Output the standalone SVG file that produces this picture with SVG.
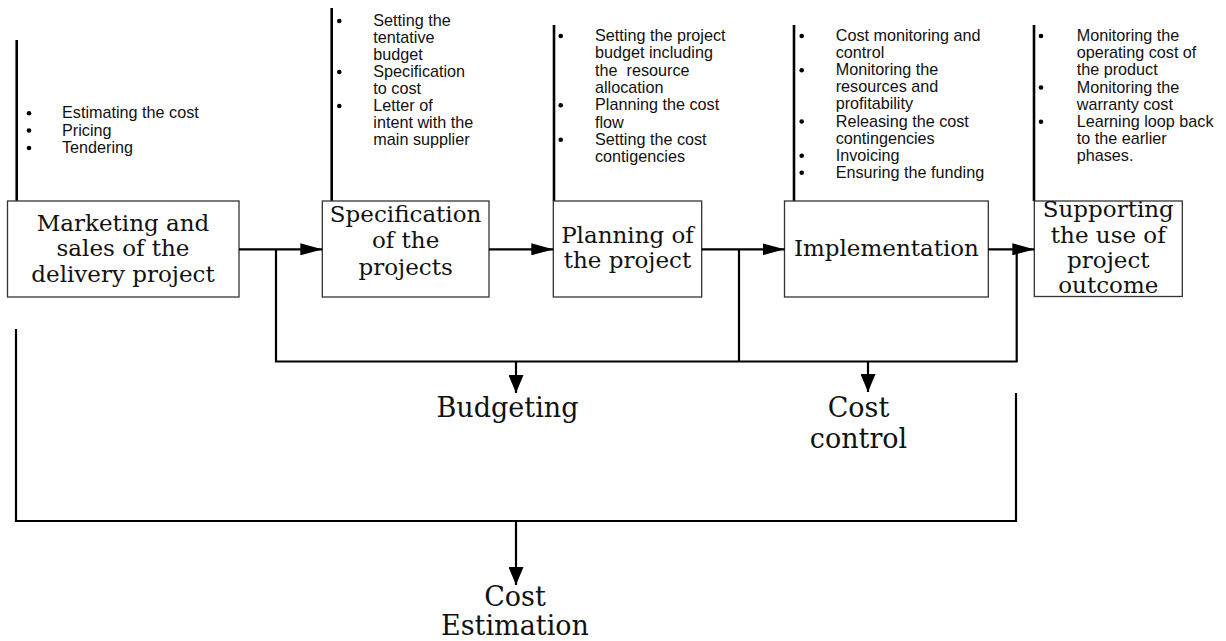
<svg xmlns="http://www.w3.org/2000/svg" width="1226" height="641" viewBox="0 0 1226 641">
  <style>
    .box { fill: #ffffff; stroke: #333333; stroke-width: 1.3; }
    .title { font-family: "DejaVu Serif", "Liberation Serif", serif; font-size: 23px; fill: #111111; text-anchor: middle; }
    .label { font-family: "DejaVu Serif", "Liberation Serif", serif; font-size: 27px; fill: #111111; text-anchor: middle; }
    .note { font-family: "Liberation Sans", Arial, sans-serif; font-size: 16.2px; fill: #111111; }
    .rule { stroke: #000000; stroke-width: 2.6; fill: none; }
    .wire { stroke: #000000; stroke-width: 2.2; fill: none; }
    .dot { fill: #000000; }
  </style>
  <defs>
    <marker id="head" viewBox="0 0 22 12" refX="22" refY="6" markerWidth="22" markerHeight="12" markerUnits="userSpaceOnUse" orient="auto">
      <path d="M0,0 L22,6 L0,12 Z" fill="#000000"/>
    </marker>
    <marker id="headDown" viewBox="0 0 18 15" refX="18" refY="7.5" markerWidth="18" markerHeight="15" markerUnits="userSpaceOnUse" orient="auto">
      <path d="M0,0 L18,7.5 L0,15 Z" fill="#000000"/>
    </marker>
  </defs>

  <!-- Phase 1 -->
  <g id="marketing">
    <line class="rule" x1="16.7" y1="40" x2="16.7" y2="201"/>
    <circle class="dot" cx="29" cy="113.3" r="2.3"/>
    <circle class="dot" cx="29" cy="130.5" r="2.3"/>
    <circle class="dot" cx="29" cy="148" r="2.3"/>
    <text class="note" x="62" y="118.3">Estimating the cost</text>
    <text class="note" x="62" y="135.5">Pricing</text>
    <text class="note" x="62" y="153">Tendering</text>
    <rect class="box" x="7.5" y="201" width="231.5" height="96"/>
    <text class="title" x="123" y="230.7">Marketing and</text>
    <text class="title" x="123" y="256.3">sales of the</text>
    <text class="title" x="123" y="281.7">delivery project</text>
  </g>

  <!-- Phase 2 -->
  <g id="specification">
    <line class="rule" x1="331.7" y1="8" x2="331.7" y2="201"/>
    <circle class="dot" cx="339.3" cy="21" r="2.3"/>
    <circle class="dot" cx="339.3" cy="72" r="2.3"/>
    <circle class="dot" cx="339.3" cy="106" r="2.3"/>
    <text class="note" x="373.3" y="26">Setting the</text>
    <text class="note" x="373.3" y="43">tentative</text>
    <text class="note" x="373.3" y="60">budget</text>
    <text class="note" x="373.3" y="77">Specification</text>
    <text class="note" x="373.3" y="94">to cost</text>
    <text class="note" x="373.3" y="111">Letter of</text>
    <text class="note" x="373.3" y="128">intent with the</text>
    <text class="note" x="373.3" y="145">main supplier</text>
    <rect class="box" x="322.3" y="201" width="166.7" height="96"/>
    <text class="title" x="405.6" y="221.7">Specification</text>
    <text class="title" x="405.6" y="248.3">of the</text>
    <text class="title" x="405.6" y="275">projects</text>
  </g>

  <!-- Phase 3 -->
  <g id="planning">
    <line class="rule" x1="554" y1="25" x2="554" y2="201"/>
    <circle class="dot" cx="560.7" cy="36" r="2.3"/>
    <circle class="dot" cx="560.7" cy="105.3" r="2.3"/>
    <circle class="dot" cx="560.7" cy="139.8" r="2.3"/>
    <text class="note" x="595" y="41">Setting the project</text>
    <text class="note" x="595" y="58.3">budget including</text>
    <text class="note" x="595" y="75.6" xml:space="preserve">the  resource</text>
    <text class="note" x="595" y="92.9">allocation</text>
    <text class="note" x="595" y="110.2">Planning the cost</text>
    <text class="note" x="595" y="127.5">flow</text>
    <text class="note" x="595" y="144.8">Setting the cost</text>
    <text class="note" x="595" y="162.1">contigencies</text>
    <rect class="box" x="553.3" y="201" width="148.4" height="96"/>
    <text class="title" x="627.5" y="242.7">Planning of</text>
    <text class="title" x="627.5" y="268.3">the project</text>
  </g>

  <!-- Phase 4 -->
  <g id="implementation">
    <line class="rule" x1="794" y1="25" x2="794" y2="201"/>
    <circle class="dot" cx="801.7" cy="36" r="2.3"/>
    <circle class="dot" cx="801.7" cy="70.2" r="2.3"/>
    <circle class="dot" cx="801.7" cy="121.5" r="2.3"/>
    <circle class="dot" cx="801.7" cy="155.7" r="2.3"/>
    <circle class="dot" cx="801.7" cy="172.8" r="2.3"/>
    <text class="note" x="835.7" y="41">Cost monitoring and</text>
    <text class="note" x="835.7" y="58.1">control</text>
    <text class="note" x="835.7" y="75.2">Monitoring the</text>
    <text class="note" x="835.7" y="92.3">resources and</text>
    <text class="note" x="835.7" y="109.4">profitability</text>
    <text class="note" x="835.7" y="126.5">Releasing the cost</text>
    <text class="note" x="835.7" y="143.6">contingencies</text>
    <text class="note" x="835.7" y="160.7">Invoicing</text>
    <text class="note" x="835.7" y="177.8">Ensuring the funding</text>
    <rect class="box" x="784.5" y="201" width="203.8" height="96"/>
    <text class="title" x="886.4" y="256">Implementation</text>
  </g>

  <!-- Phase 5 -->
  <g id="supporting">
    <line class="rule" x1="1034" y1="25" x2="1034" y2="201"/>
    <circle class="dot" cx="1041" cy="36" r="2.3"/>
    <circle class="dot" cx="1041" cy="87.5" r="2.3"/>
    <circle class="dot" cx="1041" cy="121.7" r="2.3"/>
    <text class="note" x="1076.7" y="41">Monitoring the</text>
    <text class="note" x="1076.7" y="58.2">operating cost of</text>
    <text class="note" x="1076.7" y="75.4">the product</text>
    <text class="note" x="1076.7" y="92.6">Monitoring the</text>
    <text class="note" x="1076.7" y="109.8">warranty cost</text>
    <text class="note" x="1076.7" y="127">Learning loop back</text>
    <text class="note" x="1076.7" y="144.2">to the earlier</text>
    <text class="note" x="1076.7" y="161.4">phases.</text>
    <rect class="box" x="1034.3" y="201" width="148" height="95.5"/>
    <text class="title" x="1108.3" y="217">Supporting</text>
    <text class="title" x="1108.3" y="242.5">the use of</text>
    <text class="title" x="1108.3" y="268">project</text>
    <text class="title" x="1108.3" y="292.5">outcome</text>
  </g>

  <!-- Flow between phases and feeds to the outputs -->
  <g id="connectors">
    <line class="wire" x1="239" y1="249.3" x2="322.3" y2="249.3" marker-end="url(#head)"/>
    <line class="wire" x1="489" y1="249.3" x2="553.3" y2="249.3" marker-end="url(#head)"/>
    <line class="wire" x1="701.7" y1="249.3" x2="784.5" y2="249.3" marker-end="url(#head)"/>
    <line class="wire" x1="988.3" y1="249.3" x2="1034.3" y2="249.3" marker-end="url(#head)"/>

    <polyline class="wire" points="276,249.3 276,361.5 1016.7,361.5 1016.7,249.3"/>
    <line class="wire" x1="739" y1="249.3" x2="739" y2="361.5"/>
    <line class="wire" x1="516" y1="361.5" x2="516" y2="393" marker-end="url(#headDown)"/>
    <line class="wire" x1="868" y1="361.5" x2="868" y2="392" marker-end="url(#headDown)"/>

    <polyline class="wire" points="16,329 16,521 1016,521 1016,393"/>
    <line class="wire" x1="516" y1="521" x2="516" y2="585" marker-end="url(#headDown)"/>
  </g>

  <g id="budgeting">
    <text class="label" x="507.5" y="417">Budgeting</text>
  </g>
  <g id="cost-control">
    <text class="label" x="858.5" y="417">Cost</text>
    <text class="label" x="858.5" y="447.7">control</text>
  </g>
  <g id="cost-estimation">
    <text class="label" x="515" y="606">Cost</text>
    <text class="label" x="515" y="635">Estimation</text>
  </g>
</svg>
